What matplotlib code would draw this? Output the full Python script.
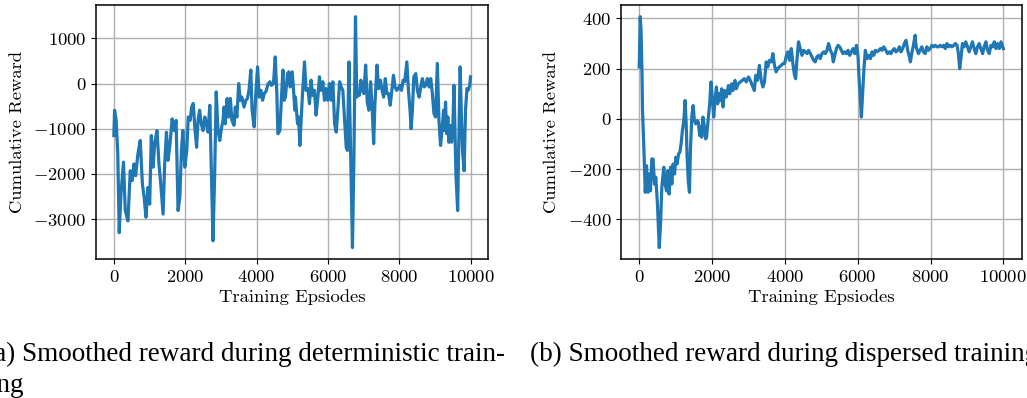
import matplotlib
matplotlib.use("Agg")
import matplotlib.pyplot as plt

# (a) deterministic training: episode, smoothed reward
ep_a = [0, 20, 65, 110, 150, 200, 270, 320, 395, 460, 510, 565, 610, 675, 740, 800, 850, 900,
        955, 1005, 1050, 1100, 1145, 1210, 1265, 1315, 1380, 1425, 1475, 1520, 1575, 1635, 1690,
        1745, 1800, 1850, 1895, 1935, 1990, 2045, 2085, 2140, 2180, 2225, 2270, 2320, 2360, 2405,
        2450, 2500, 2550, 2595, 2640, 2690, 2735, 2780, 2825, 2870, 2920, 2970, 3015, 3060, 3090,
        3125, 3175, 3220, 3265, 3310, 3370, 3405, 3450, 3500, 3545, 3590, 3650, 3700, 3745, 3790,
        3840, 3875, 3935, 3980, 4030, 4075, 4120, 4170, 4215, 4260, 4330, 4375, 4420, 4475, 4525,
        4570, 4600, 4655, 4700, 4740, 4775, 4810, 4870, 4905, 4940, 5000, 5045, 5075, 5090, 5150,
        5180, 5215, 5250, 5290, 5345, 5390, 5440, 5485, 5530, 5575, 5625, 5670, 5720, 5765, 5810,
        5860, 5905, 5950, 6000, 6045, 6095, 6140, 6190, 6235, 6280, 6330, 6375, 6420, 6470, 6515,
        6550, 6590, 6640, 6690, 6730, 6775, 6810, 6850, 6885, 6925, 6975, 7010, 7060, 7105, 7150,
        7200, 7245, 7285, 7320, 7380, 7420, 7475, 7520, 7565, 7610, 7655, 7700, 7750, 7795, 7840,
        7885, 7930, 7975, 8020, 8065, 8110, 8155, 8215, 8260, 8305, 8335, 8370, 8410, 8465, 8510,
        8560, 8605, 8650, 8700, 8745, 8790, 8840, 8885, 8930, 8975, 9020, 9070, 9115, 9160, 9205,
        9245, 9270, 9300, 9330, 9365, 9395, 9430, 9470, 9505, 9535, 9565, 9590, 9640, 9670, 9710,
        9745, 9775, 9820, 9860, 9900, 9935, 9980, 10000]
reward_a = [-1150, -590, -815, -1550, -3300, -2440, -1740, -2810, -3040, -1930, -2150, -1780, -2040,
            -1555, -1260, -2220, -2520, -2960, -2300, -2670, -1150, -1850, -1330, -1040, -1780,
            -2220, -2890, -1780, -1075, -1700, -1330, -780, -1040, -815, -2810, -2520, -1480,
            -1040, -1850, -1480, -740, -815, -520, -440, -960, -1410, -815, -590, -890, -1040,
            -740, -890, -1075, -480, -1930, -3480, -2070, -185, -1040, -1260, -1000, -815, -520,
            -890, -330, -740, -330, -815, -925, -520, -740, 0, -370, -300, -520, -370, -330, -150,
            300, -590, -960, -220, 370, -300, -150, -370, -220, -185, 0, 40, -40, 0, 590, -220,
            -1110, -1040, -300, 300, -370, -300, 220, 260, -75, 260, -220, -590, -300, -890, -740,
            -1370, -815, -220, 480, -150, -110, -445, 75, -260, -150, -700, -300, 150, -150, 40,
            -370, -110, -370, 0, -370, 40, -890, -1075, -590, 40, -75, -150, -815, -1410, -1480,
            480, -1630, -3630, -1700, 1480, -300, -220, -260, 75, -150, -220, 410, -410, -590, 40,
            -590, -1330, -445, 410, -110, 75, -150, -300, 110, -220, -220, -480, -150, 185, -75,
            -150, -110, -40, -150, 75, 40, 480, -150, -590, -1000, -590, 150, 220, -150, -300, -75,
            110, -75, -40, 110, -75, 110, -220, -665, -740, 445, -815, -1370, -1000, -590, -1040,
            -410, -1110, -740, -1300, -925, -1300, -960, -40, -1040, -2000, -2810, -1330, 370, -740,
            -1480, -1930, -590, -110, -150, -40, 150]

# (b) dispersed training
ep_b = [0, 27, 50, 73, 90, 130, 165, 200, 240, 275, 310, 345, 380, 420, 455, 500, 550, 585, 620,
        675, 710, 750, 785, 820, 860, 895, 930, 970, 1005, 1040, 1080, 1115, 1150, 1185, 1225, 1260,
        1290, 1315, 1350, 1380, 1405, 1445, 1480, 1515, 1550, 1590, 1625, 1660, 1690, 1715, 1750,
        1790, 1825, 1850, 1890, 1935, 1970, 2005, 2045, 2080, 2120, 2155, 2190, 2230, 2265, 2300,
        2340, 2390, 2450, 2485, 2540, 2575, 2630, 2665, 2720, 2775, 2830, 2885, 2940, 3000, 3050,
        3105, 3160, 3200, 3245, 3300, 3350, 3395, 3440, 3485, 3530, 3575, 3625, 3670, 3715, 3760,
        3805, 3850, 3900, 3945, 3990, 4035, 4080, 4130, 4175, 4220, 4265, 4295, 4330, 4375, 4420,
        4470, 4515, 4560, 4605, 4650, 4700, 4745, 4790, 4835, 4880, 4925, 4970, 5020, 5065, 5110,
        5155, 5200, 5250, 5295, 5330, 5370, 5415, 5460, 5505, 5550, 5595, 5640, 5690, 5735, 5780,
        5825, 5870, 5920, 5965, 6010, 6035, 6070, 6100, 6135, 6175, 6210, 6255, 6300, 6350, 6395,
        6440, 6485, 6530, 6580, 6625, 6670, 6715, 6774, 6820, 6866, 6912, 6959, 7005, 7051, 7097,
        7143, 7189, 7235, 7281, 7327, 7373, 7419, 7447, 7484, 7530, 7576, 7604, 7668, 7714, 7760,
        7806, 7853, 7899, 7945, 7991, 8037, 8083, 8129, 8175, 8221, 8267, 8313, 8359, 8406, 8452,
        8498, 8544, 8590, 8636, 8682, 8728, 8765, 8802, 8839, 8876, 8922, 8968, 9014, 9060, 9106,
        9152, 9198, 9244, 9290, 9336, 9382, 9429, 9475, 9521, 9567, 9613, 9659, 9705, 9751, 9797,
        9843, 9889, 9935, 9982, 10000]
reward_b = [207, 407, 353, 207, 33, -127, -293, -187, -293, -220, -287, -160, -160, -260, -233, -340,
            -513, -420, -273, -193, -260, -287, -207, -300, -193, -260, -180, -220, -153, -180, -140,
            -133, -100, -47, -7, 73, -20, -153, -253, -293, -127, 13, 53, -7, -20, -7, -13, -67, -33,
            -73, 7, -33, -80, -73, -7, 60, 147, 87, 7, 73, 127, 60, 100, 73, 120, 47, 113, 87, 133,
            100, 140, 113, 153, 120, 140, 147, 153, 160, 147, 167, 153, 133, 113, 173, 153, 213, 153,
            127, 147, 227, 207, 233, 227, 260, 213, 187, 200, 207, 213, 220, 220, 247, 267, 233, 280,
            220, 173, 160, 233, 307, 280, 253, 273, 267, 260, 273, 260, 247, 233, 227, 247, 253, 240,
            260, 267, 260, 273, 300, 273, 260, 227, 253, 280, 293, 287, 273, 260, 267, 260, 273, 253,
            267, 280, 260, 293, 247, 167, 87, 7, 100, 207, 273, 240, 253, 240, 267, 253, 273, 267,
            273, 280, 273, 287, 273, 260, 267, 260, 273, 280, 267, 273, 287, 267, 280, 300, 313, 273,
            247, 227, 260, 293, 333, 287, 260, 273, 287, 267, 260, 287, 273, 280, 293, 287, 293, 287,
            287, 293, 287, 293, 280, 300, 287, 293, 287, 293, 300, 293, 260, 200, 247, 300, 287, 307,
            287, 267, 287, 307, 280, 260, 287, 300, 280, 260, 287, 307, 273, 260, 293, 287, 307, 280,
            300, 280, 307, 287, 280]

plt.rcParams["font.family"] = "cmr10"
plt.rcParams["mathtext.fontset"] = "cm"
plt.rcParams["axes.formatter.use_mathtext"] = True
plt.rcParams["font.size"] = 13.4

fig = plt.figure(figsize=(10.27, 3.98), dpi=100)
ax1 = fig.add_axes([0.0935, 0.349, 0.382, 0.638])
ax2 = fig.add_axes([0.6047, 0.349, 0.390, 0.638])

for ax, x, y in [(ax1, ep_a, reward_a), (ax2, ep_b, reward_b)]:
    ax.plot(x, y, color="#1f77b4", lw=2.3)
    ax.grid(True, color="#b0b0b0", lw=1.0)
    ax.set_axisbelow(True)
    ax.set_xticks([0, 2000, 4000, 6000, 8000, 10000])
    ax.set_xlabel("Training Epsiodes", labelpad=3)
    ax.set_ylabel("Cumulative Reward", labelpad=6)
    for s in ax.spines.values():
        s.set_linewidth(1.1)

ax1.set_yticks([-3000, -2000, -1000, 0, 1000])
ax2.set_yticks([-400, -200, 0, 200, 400])

# sub-captions, cropped at the figure edges like the source
cap = dict(family="Liberation Serif", fontsize=19.5, va="baseline")
fig.text(-15 / 1027, 1 - 361 / 398, "(a) Smoothed reward during deterministic train-", **cap)
fig.text(-20 / 1027, 1 - 392 / 398, "ring", **cap)
fig.text(530 / 1027, 1 - 361 / 398, "(b) Smoothed reward during dispersed training", **cap)

fig.savefig("out.png", dpi=100)
